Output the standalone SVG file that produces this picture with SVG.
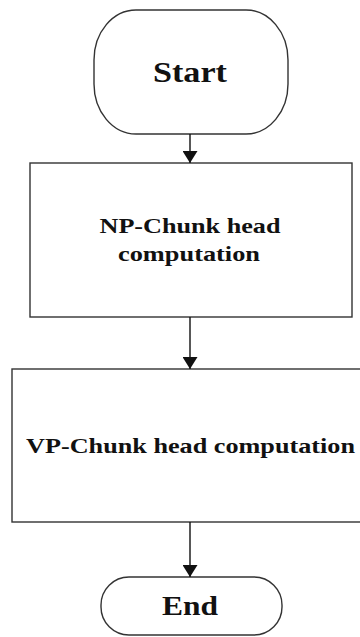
<svg xmlns="http://www.w3.org/2000/svg" width="360" height="637" viewBox="0 0 360 637">
  <style>
    .shape { fill: #ffffff; stroke: #333333; stroke-width: 1.4; }
    .lbl { font-family: "Liberation Serif", "Times New Roman", serif; font-weight: bold; fill: #111111; text-anchor: middle; }
    .conn { stroke: #111111; stroke-width: 1.4; fill: none; }
  </style>
  <defs>
    <marker id="arr" viewBox="0 0 12 15" refX="12" refY="7.5" markerWidth="12" markerHeight="15" markerUnits="userSpaceOnUse" orient="auto">
      <path d="M0,0 L12,7.5 L0,15 Z" fill="#111111"/>
    </marker>
  </defs>
  <rect width="360" height="637" fill="#ffffff"/>
  <g id="start">
    <rect class="shape" x="94" y="10" width="194" height="124" rx="42" ry="50"/>
    <text class="lbl" x="190" y="82" font-size="29" textLength="74" lengthAdjust="spacingAndGlyphs">Start</text>
  </g>
  <g id="np">
    <rect class="shape" x="30" y="163" width="322" height="154"/>
    <text class="lbl" x="190" y="233" font-size="22" textLength="181" lengthAdjust="spacingAndGlyphs">NP-Chunk head</text>
    <text class="lbl" x="189" y="261" font-size="22" textLength="142" lengthAdjust="spacingAndGlyphs">computation</text>
  </g>
  <g id="vp">
    <rect class="shape" x="12" y="369" width="352" height="153"/>
    <text class="lbl" x="190.5" y="453" font-size="22" textLength="329" lengthAdjust="spacingAndGlyphs">VP-Chunk head computation</text>
  </g>
  <g id="end">
    <rect class="shape" x="101" y="577" width="181" height="58" rx="28" ry="28"/>
    <text class="lbl" x="190" y="615" font-size="27" textLength="56" lengthAdjust="spacingAndGlyphs">End</text>
  </g>
  <g id="connectors">
    <line class="conn" x1="190" y1="134" x2="190" y2="163" marker-end="url(#arr)"/>
    <line class="conn" x1="190" y1="317" x2="190" y2="369" marker-end="url(#arr)"/>
    <line class="conn" x1="190" y1="522" x2="190" y2="577" marker-end="url(#arr)"/>
  </g>
</svg>
